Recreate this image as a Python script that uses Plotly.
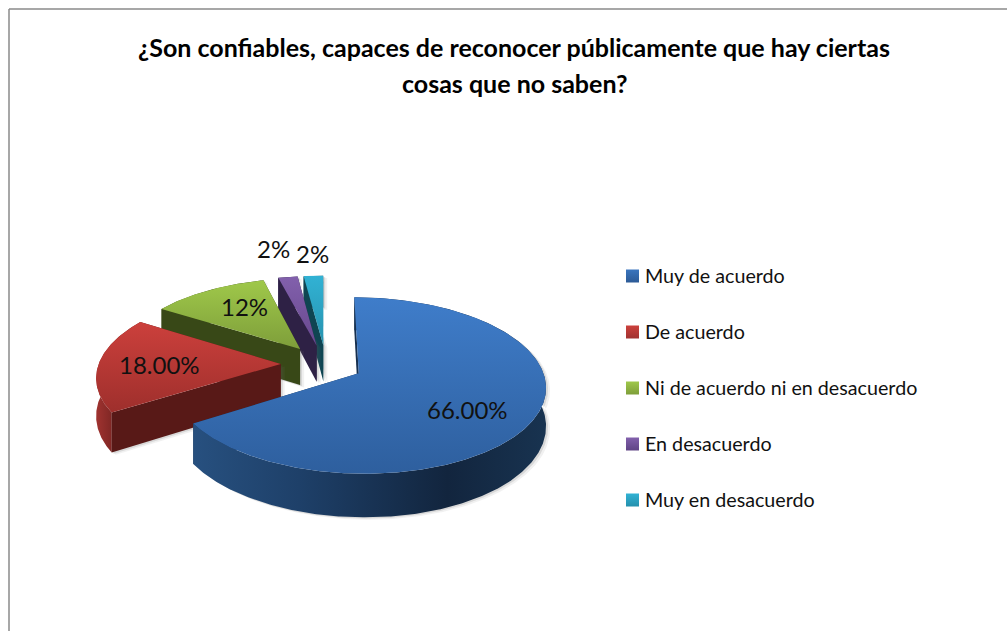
import numpy as np
import plotly.graph_objects as go

# ---- data ----
CATEGORIES = ["Muy de acuerdo", "De acuerdo", "Ni de acuerdo ni en desacuerdo", "En desacuerdo", "Muy en desacuerdo"]
VALUES = [66, 18, 12, 2, 2]
VALUE_LABELS = ["66.00%", "18.00%", "12%", "2%", "2%"]
TITLE_LINES = ["¿Son confiables, capaces de reconocer públicamente que hay ciertas", "cosas que no saben?"]

# ---- styles ----
FONT = "Lato"
TOP_COLORS = [("#3F7DCA", "#2E5F9E"), ("#CC403C", "#9E2F2C"), ("#9FC84A", "#7E9E3A"), ("#8260AC", "#67488E"), ("#31B2D4", "#2792AE")]
LEGEND_COLORS = [("#3A75BE", "#2C5A96"), ("#CC403C", "#A03230"), ("#9FC84A", "#7E9E3A"), ("#8260AC", "#5F4485"), ("#31B2D4", "#2590AD")]
RIM_COLORS = [
    [[0, "#27507F"], [0.3, "#1E4069"], [0.72, "#12253E"], [1, "#183350"]],
    [[0, "#A03330"], [0.6, "#6A1F1D"], [1, "#551917"]],
    [[0, "#3E5019"], [1, "#34441A"]],
    [[0, "#33244F"], [1, "#2B1E42"]],
    [[0, "#124C5C"], [1, "#0E3F4C"]],
]
WALL_COLORS = ["#17304F", "#581917", "#384817", "#2E2145", "#0F4552"]
LABEL_RADIUS = [0.6, 0.655, 0.65, 1.4, 1.3]
LABEL_SHIFT = [(6, 10), (-2, 0), (6, -3), (-5, -5), (2, -4)]
SLICE_NUDGE = [0, 0, 0.01, 0.012, 0.022]

# ---- projection of the exploded 3-D pie ----
CX, CY = 322, 364
RX, RY = 182, 84
PERSPECTIVE = 0.136
EXPLODE = 0.227
DEPTH = 37


def project(u, v, lowered=False):
    s = 1 / (1 - PERSPECTIVE * v)
    return CX + RX * u * s, CY + RY * v * s + (DEPTH * s if lowered else 0)


def polar(center, deg, r=1.0):
    a = np.radians(deg)
    return center[0] + r * np.sin(a), center[1] - r * np.cos(a)


def add_poly(fig, x, y, colorscale=None, kind="vertical", solid=None):
    x = np.r_[x, x[0]]
    y = np.r_[y, y[0]]
    tr = dict(x=x, y=y, mode="lines", line=dict(width=0), fill="toself", hoverinfo="skip", showlegend=False)
    if colorscale is not None:
        tr["fillgradient"] = dict(type=kind, colorscale=colorscale)
        tr["fillcolor"] = "rgba(0,0,0,0)"
    else:
        tr["fillcolor"] = solid
    fig.add_trace(go.Scatter(**tr))


fig = go.Figure()

total = sum(VALUES)
edges = np.r_[0, np.cumsum(VALUES)] * 360 / total
slices = []
for i in range(len(VALUES)):
    a0, a1 = edges[i], edges[i + 1]
    mid = (a0 + a1) / 2
    cu, cv = polar((0, 0), mid, EXPLODE)
    center = (cu + SLICE_NUDGE[i], cv)
    arc = np.linspace(a0, a1, max(8, int((a1 - a0) * 2)))
    au, av = polar(center, arc)
    slices.append(dict(center=center, mid=mid, au=au, av=av))

# back-to-front drawing order: small back slices first, the big front slice last
for i in [4, 3, 2, 1, 0]:
    s = slices[i]
    cu, cv = s["center"]
    au, av = s["au"], s["av"]
    u = np.r_[cu, au]
    v = np.r_[cv, av]
    tx, ty = project(u, v)
    bx, by = project(u, v, lowered=True)
    # soft shadow of the whole solid
    hx = np.r_[tx, bx[::-1]]
    hy = np.r_[ty, by[::-1]]
    for off, col in ((4, "rgba(120,120,120,0.10)"), (2, "rgba(90,90,90,0.16)")):
        add_poly(fig, hx + off, hy + off * 0.6, solid=col)
    ax, ay = project(au, av)
    lx, ly = project(au, av, lowered=True)
    cxx, cyy = project(cu, cv)
    clx, cly = project(cu, cv, lowered=True)
    # back-facing radial wall, then rim, then front-facing radial wall
    add_poly(fig, np.array([cxx, ax[-1], lx[-1], clx]), np.array([cyy, ay[-1], ly[-1], cly]), solid=WALL_COLORS[i])
    add_poly(fig, np.r_[ax, lx[::-1]], np.r_[ay, ly[::-1]], RIM_COLORS[i], "horizontal")
    add_poly(fig, np.array([cxx, ax[0], lx[0], clx]), np.array([cyy, ay[0], ly[0], cly]), solid=WALL_COLORS[i])
    # top face
    c0, c1 = TOP_COLORS[i]
    add_poly(fig, tx, ty, [[0, c1], [1, c0]], "vertical")

# legend drawn as squares + real text
LEG_X, LEG_Y0, LEG_STEP = 632.5, 276, 56
annotations = []
for i, name in enumerate(CATEGORIES):
    y = LEG_Y0 + i * LEG_STEP
    c0, c1 = LEGEND_COLORS[i]
    fig.add_trace(go.Scatter(x=[LEG_X], y=[y], mode="markers", hoverinfo="skip", showlegend=False,
                             marker=dict(symbol="square", size=13, color=c0, line=dict(width=0),
                                         gradient=dict(type="vertical", color=c1))))
    annotations.append(dict(x=LEG_X + 10, y=y - 1, text=name, xanchor="left", yanchor="middle", showarrow=False,
                            font=dict(family=FONT, size=19.7, color="#111111")))

# data labels
for i, lab in enumerate(VALUE_LABELS):
    s = slices[i]
    u, v = polar(s["center"], s["mid"], LABEL_RADIUS[i])
    x, y = project(u, v)
    dx, dy = LABEL_SHIFT[i]
    annotations.append(dict(x=x + dx, y=y + dy, text=lab, xanchor="center", yanchor="middle", showarrow=False,
                            font=dict(family=FONT, size=24, color="#111111")))

# second title line
annotations.append(dict(x=514, y=83, text="<b>%s</b>" % TITLE_LINES[1], xanchor="center", yanchor="middle",
                        showarrow=False, font=dict(family=FONT, size=25, color="#000000")))

fig.update_layout(
    width=1007, height=631, margin=dict(l=0, r=0, t=0, b=0),
    paper_bgcolor="white", plot_bgcolor="white", showlegend=False,
    title=dict(text="<b>%s</b>" % TITLE_LINES[0], x=514 / 1007, xanchor="center", y=1 - 48 / 631, yanchor="middle",
               font=dict(family=FONT, size=25, color="#000000")),
    xaxis=dict(range=[0, 1007], visible=False, fixedrange=True),
    yaxis=dict(range=[631, 0], visible=False, fixedrange=True),
    annotations=annotations,
    shapes=[
        dict(type="line", xref="paper", yref="paper", x0=9 / 1007, x1=9 / 1007, y0=0, y1=1 - 9 / 631, line=dict(color="#8A8A8A", width=1.5)),
        dict(type="line", xref="paper", yref="paper", x0=9 / 1007, x1=1, y0=1 - 9 / 631, y1=1 - 9 / 631, line=dict(color="#8A8A8A", width=1.5)),
    ],
)

fig.write_html("out.html", config=dict(displayModeBar=False),
               post_script="document.body.style.margin='0';document.body.style.overflow='hidden';")
